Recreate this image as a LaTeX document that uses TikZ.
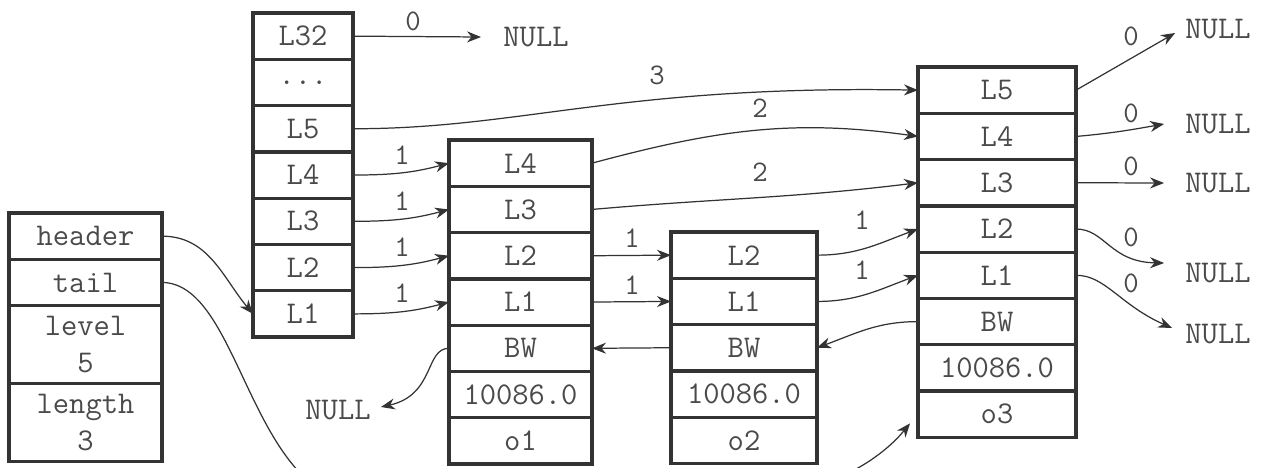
\documentclass[tikz,border=0pt]{standalone}
\usepackage{fontspec}
\usetikzlibrary{arrows.meta, positioning}

\definecolor{ink}{HTML}{333333}
\definecolor{txt}{HTML}{4A4A4A}

\begin{document}
\begin{tikzpicture}[
	x=0.02cm, y=-0.02cm,
	fld/.style={rectangle, draw=ink, line width=1.9pt, outer sep=0pt, inner sep=0pt, minimum height=0.926cm, align=center, text=txt, font=\ttfamily\fontsize{18}{21.5}\selectfont},
	tall/.style={fld, minimum height=1.56cm},
	lst/.style={fld, minimum width=3.06cm},
	hcol/.style={fld, minimum width=2cm},
	ocol/.style={fld, minimum width=2.86cm},
	pcol/.style={fld, minimum width=2.92cm},
	qcol/.style={fld, minimum width=3.16cm},
	nul/.style={inner sep=0pt, text=txt, font=\ttfamily\fontsize{18}{20}\selectfont},
	lbl/.style={inner sep=0pt, text=txt, font=\ttfamily\fontsize{17}{18}\selectfont},
	conn/.style={draw=ink, line width=0.7pt, -{Stealth[length=2.8mm, width=2.2mm, inset=0.9mm]}},
]
	\useasboundingbox (0,0) rectangle (1266,467);

	% zskiplist (left)
	\node[lst, anchor=north] (lhead) at (85.5,213) {header};
	\node[lst, below=0pt of lhead] (ltail) {tail};
	\node[lst, tall, below=0pt of ltail] (llevel) {level\\5};
	\node[lst, tall, below=0pt of llevel] (llength) {length\\3};

	% header levels
	\node[hcol, anchor=north] (h32) at (303,13) {L32};
	\node[hcol, below=0pt of h32] (hdots) {...};
	\node[hcol, below=0pt of hdots] (h5) {L5};
	\node[hcol, below=0pt of h5] (h4) {L4};
	\node[hcol, below=0pt of h4] (h3) {L3};
	\node[hcol, below=0pt of h3] (h2) {L2};
	\node[hcol, below=0pt of h2] (h1) {L1};

	% o1
	\node[ocol, anchor=north] (a4) at (520.5,140) {L4};
	\node[ocol, below=0pt of a4] (a3) {L3};
	\node[ocol, below=0pt of a3] (a2) {L2};
	\node[ocol, below=0pt of a2] (a1) {L1};
	\node[ocol, below=0pt of a1] (abw) {BW};
	\node[ocol, below=0pt of abw] (ascore) {10086.0};
	\node[ocol, below=0pt of ascore] (aobj) {o1};

	% o2
	\node[pcol, anchor=north] (b2) at (744,232) {L2};
	\node[pcol, below=0pt of b2] (b1) {L1};
	\node[pcol, below=0pt of b1] (bbw) {BW};
	\node[pcol, below=0pt of bbw] (bscore) {10086.0};
	\node[pcol, below=0pt of bscore] (bobj) {o2};

	% o3
	\node[qcol, anchor=north] (c5) at (997,67) {L5};
	\node[qcol, below=0pt of c5] (c4) {L4};
	\node[qcol, below=0pt of c4] (c3) {L3};
	\node[qcol, below=0pt of c3] (c2) {L2};
	\node[qcol, below=0pt of c2] (c1) {L1};
	\node[qcol, below=0pt of c1] (cbw) {BW};
	\node[qcol, below=0pt of cbw] (cscore) {10086.0};
	\node[qcol, below=0pt of cscore] (cobj) {o3};

	% NULL ends
	\node[nul] (n32) at (536,37) {NULL};
	\node[nul] (nbw) at (338,410) {NULL};
	\node[nul] (nc5) at (1218,29) {NULL};
	\node[nul] (nc4) at (1218,124) {NULL};
	\node[nul] (nc3) at (1218,183) {NULL};
	\node[nul] (nc2) at (1218,273) {NULL};
	\node[nul] (nc1) at (1218,334) {NULL};

	% header/tail pointers
	\draw[conn] (lhead.east) to[out=0, in=130] (h1.west);
	\draw[conn] (ltail.east) .. controls (230,283) and (245,440) .. (320,490)
		-- (780,490) .. controls (830,490) and (880,460) .. ([xshift=-0.16cm, yshift=0.28cm]cobj.south west);

	% forward pointers
	\draw[conn] (h32.east) -- ([xshift=-0.44cm]n32.west);
	\draw[conn] (h5.east) .. controls (520,129) and (620,85) .. (c5.west);
	\draw[conn] (h4.east) to[out=0, in=195] (a4.west);
	\draw[conn] (h3.east) to[out=0, in=195] (a3.west);
	\draw[conn] (h2.east) to[out=0, in=195] (a2.west);
	\draw[conn] (h1.east) to[out=0, in=195] (a1.west);
	\draw[conn] (a4.east) to[out=15, in=172] (c4.west);
	\draw[conn] (a3.east) to[out=5, in=187] (c3.west);
	\draw[conn] (a2.east) -- (b2.west);
	\draw[conn] (a1.east) -- (b1.west);
	\draw[conn] (b2.east) to[out=0, in=200] (c2.west);
	\draw[conn] (b1.east) to[out=0, in=200] (c1.west);
	\draw[conn] (c5.east) -- ([xshift=-0.2cm, yshift=-0.08cm]nc5.west);
	\draw[conn] (c4.east) to[out=5, in=190] ([xshift=-0.42cm]nc4.west);
	\draw[conn] (c3.east) -- ([xshift=-0.42cm]nc3.west);
	\draw[conn] (c2.east) .. controls (1105,229) and (1110,262) .. ([xshift=-0.42cm, yshift=0.2cm]nc2.west);
	\draw[conn] (c1.east) .. controls (1105,275) and (1120,305) .. ([xshift=-0.26cm, yshift=0.12cm]nc1.west);

	% backward pointers
	\draw[conn] (cbw.west) to[out=180, in=20] (bbw.east);
	\draw[conn] (bbw.west) -- (abw.east);
	\draw[conn] (abw.west) .. controls (425,348) and (435,395) .. ([xshift=0.2cm, yshift=0.06cm]nbw.east);

	% spans
	\node[lbl] (w32) at (413,21) {0};
	\node[lbl] (wh5) at (657,75) {3};
	\node[lbl] (wh4) at (402,155) {1};
	\node[lbl] (wh3) at (402,201) {1};
	\node[lbl] (wh2) at (402,247) {1};
	\node[lbl] (wh1) at (402,293) {1};
	\node[lbl] (wa4) at (760,108) {2};
	\node[lbl] (wa3) at (760,172) {2};
	\node[lbl] (wa2) at (632,238) {1};
	\node[lbl] (wa1) at (632,285) {1};
	\node[lbl] (wb2) at (862,220) {1};
	\node[lbl] (wb1) at (862,270) {1};
	\node[lbl] (wc5) at (1131,36) {0};
	\node[lbl] (wc4) at (1131,113) {0};
	\node[lbl] (wc3) at (1131,166) {0};
	\node[lbl] (wc2) at (1131,237) {0};
	\node[lbl] (wc1) at (1131,283) {0};

\end{tikzpicture}
\end{document}
